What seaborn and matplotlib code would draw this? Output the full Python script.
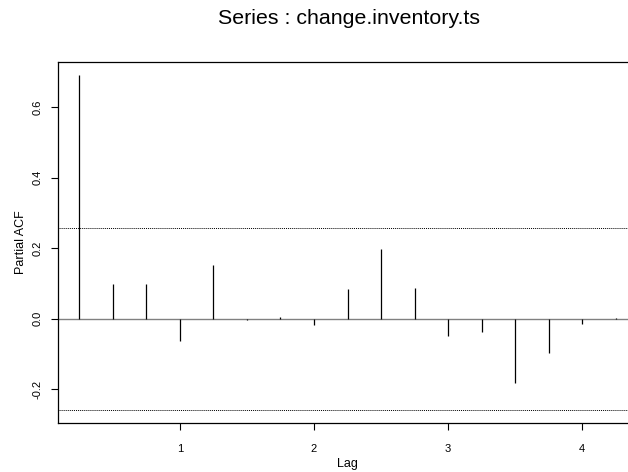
import matplotlib
matplotlib.use("Agg")
import matplotlib.pyplot as plt
import seaborn as sns
import numpy as np
import pandas as pd

# partial autocorrelations, lags in years (quarterly)
lags = [0.25, 0.5, 0.75, 1.0, 1.25, 1.5, 1.75, 2.0, 2.25,
        2.5, 2.75, 3.0, 3.25, 3.5, 3.75, 4.0, 4.25]
pacf_vals = [0.691, 0.098, 0.098, -0.062, 0.152, -0.005, 0.004, -0.017, 0.084,
             0.198, 0.087, -0.048, -0.039, -0.182, -0.096, -0.016, 0.002]
n_obs = 60
x_ticks = [1, 2, 3, 4]
y_ticks = [-0.2, 0.0, 0.2, 0.4, 0.6]

df = pd.DataFrame({"lag": lags, "pacf": pacf_vals})
conf = 2 / np.sqrt(n_obs)

sns.set_style("white")
plt.rcParams["font.family"] = ["Liberation Sans", "DejaVu Sans"]
plt.rcParams.update({"text.color": "black", "axes.labelcolor": "black",
                     "xtick.color": "black", "ytick.color": "black"})

fig = plt.figure(figsize=(6.28, 4.72), dpi=100)
ax = fig.add_axes([0.0924, 0.1038, 0.9219, 0.7655])

ax.axhline(0, color="#808080", lw=1.0, zorder=1)
ax.vlines(df["lag"], 0, df["pacf"], color="black", lw=0.9, zorder=2)
ax.axhline(conf, color="black", lw=0.7, ls=(0, (1, 1)))
ax.axhline(-conf, color="black", lw=0.7, ls=(0, (1, 1)))

ax.set_xlim(0.09, 4.41)
ax.set_ylim(-0.296, 0.729)
ax.set_xticks(x_ticks)
ax.set_xticklabels([str(t) for t in x_ticks])
ax.set_yticks(y_ticks)
ax.set_yticklabels([f"{t:.1f}" for t in y_ticks], rotation=90, va="center")
ax.tick_params(axis="both", direction="out", length=5, width=0.8,
               labelsize=8, color="black", labelcolor="black",
               left=True, bottom=True)
ax.tick_params(axis="x", pad=10)
ax.tick_params(axis="y", pad=6)

for side in ["left", "bottom", "top", "right"]:
    ax.spines[side].set_visible(True)
    ax.spines[side].set_color("black")
    ax.spines[side].set_linewidth(0.9)

ax.set_xlabel("Lag", fontsize=9, labelpad=3, color="black")
ax.set_ylabel("Partial ACF", fontsize=9, labelpad=4, color="black")
fig.text(0.556, 1 - 18 / 472, "Series : change.inventory.ts",
         fontsize=15.4, ha="center", va="center", color="black")

fig.savefig("out.png", dpi=100)
